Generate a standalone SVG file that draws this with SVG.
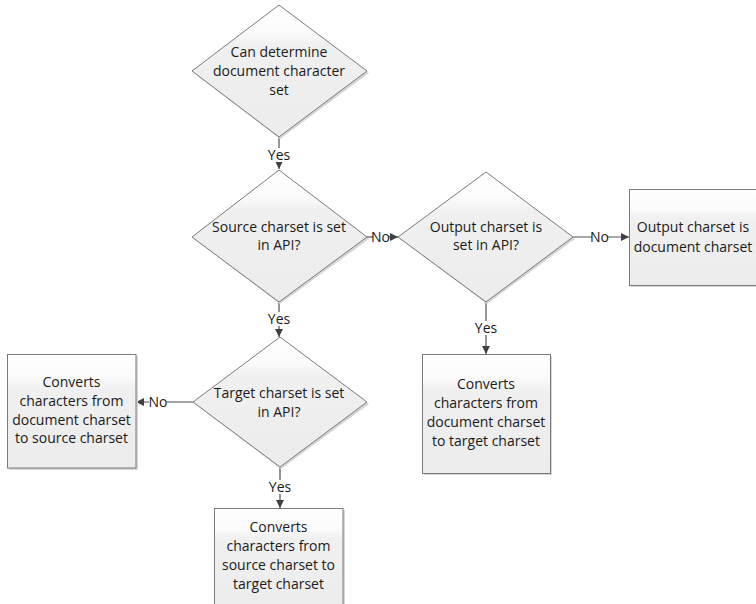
<svg xmlns="http://www.w3.org/2000/svg" width="756" height="604" viewBox="0 0 756 604">
<defs>
<linearGradient id="g" x1="0" y1="0" x2="0" y2="1">
<stop offset="0" stop-color="#ffffff"/>
<stop offset="0.2" stop-color="#fbfbfb"/>
<stop offset="0.3" stop-color="#f0f0f0"/>
<stop offset="1" stop-color="#ececec"/>
</linearGradient>
<marker id="arr" viewBox="0 0 10 10" refX="10" refY="5" markerWidth="8" markerHeight="8" markerUnits="userSpaceOnUse" orient="auto">
<path d="M0,0 L10,5 L0,10 z" fill="#404040"/>
</marker>
</defs>
<style>
.shape{fill:url(#g);stroke:#7a7a7a;stroke-width:1}
.shadow{fill:#d6d6d6;stroke:none}
.t{font-family:"Open Sans","Noto Sans",sans-serif;font-size:14px;fill:#1a1a1a;text-anchor:middle}
.c{stroke:#505050;stroke-width:1.2;fill:none}
.lb{fill:#fff}
</style>
<rect width="756" height="604" fill="#fff"/>

<g id="connectors">
<path class="c" d="M279,137 V169" marker-end="url(#arr)"/>
<path class="c" d="M367,237 H398" marker-end="url(#arr)"/>
<path class="c" d="M573,237 H629" marker-end="url(#arr)"/>
<path class="c" d="M486,302 V354" marker-end="url(#arr)"/>
<path class="c" d="M279,302 V337" marker-end="url(#arr)"/>
<path class="c" d="M193,402 H136" marker-end="url(#arr)"/>
<path class="c" d="M280,467 V508" marker-end="url(#arr)"/>
<rect class="lb" x="267" y="148" width="24" height="14"/>
<text class="t" x="279" y="160">Yes</text>
<rect class="lb" x="373" y="230" width="15" height="14"/>
<text class="t" x="380.5" y="242">No</text>
<rect class="lb" x="592" y="230" width="15" height="14"/>
<text class="t" x="599.5" y="242">No</text>
<rect class="lb" x="474" y="321" width="24" height="14"/>
<text class="t" x="486" y="333">Yes</text>
<rect class="lb" x="267" y="312" width="24" height="14"/>
<text class="t" x="279" y="324">Yes</text>
<rect class="lb" x="149" y="395" width="18" height="14"/>
<text class="t" x="158" y="407">No</text>
<rect class="lb" x="268" y="480" width="24" height="14"/>
<text class="t" x="280" y="492">Yes</text>
</g>

<g id="d1">
<polygon class="shadow" points="280,7 369,73 280,139 194,73"/>
<polygon class="shape" points="279,5 367,71 279,137 192,71"/>
<text class="t" x="279" y="57">Can determine</text>
<text class="t" x="279" y="76">document character</text>
<text class="t" x="279" y="95">set</text>
</g>

<g id="d2">
<polygon class="shadow" points="280,172 369,239 280,304 194,239"/>
<polygon class="shape" points="279,170 367,237 279,302 192,237"/>
<text class="t" x="279" y="232">Source charset is set</text>
<text class="t" x="279" y="250">in API?</text>
</g>

<g id="d3">
<polygon class="shadow" points="487,174 575,239 487,304 400,239"/>
<polygon class="shape" points="486,172 573,237 486,302 398,237"/>
<text class="t" x="486" y="232">Output charset is</text>
<text class="t" x="486" y="250">set in API?</text>
</g>

<g id="d4">
<polygon class="shadow" points="281,339 369,404 281,469 195,404"/>
<polygon class="shape" points="280,337 367,402 280,467 193,402"/>
<text class="t" x="279" y="398">Target charset is set</text>
<text class="t" x="279" y="417">in API?</text>
</g>

<g id="b1">
<rect class="shadow" x="631" y="191" width="128" height="96"/>
<rect class="shape" x="629.5" y="189.5" width="128" height="96"/>
<text class="t" x="693" y="232">Output charset is</text>
<text class="t" x="693" y="252">document charset</text>
</g>

<g id="b2">
<rect class="shadow" x="424" y="356" width="128" height="119"/>
<rect class="shape" x="422.5" y="354.5" width="128" height="119"/>
<text class="t" x="486" y="389">Converts</text>
<text class="t" x="486" y="408">characters from</text>
<text class="t" x="486" y="427">document charset</text>
<text class="t" x="486" y="446">to target charset</text>
</g>

<g id="b3">
<rect class="shadow" x="9" y="356" width="129" height="114"/>
<rect class="shape" x="7.5" y="354.5" width="128.5" height="113.5"/>
<text class="t" x="71.5" y="387">Converts</text>
<text class="t" x="71.5" y="406">characters from</text>
<text class="t" x="71.5" y="425">document charset</text>
<text class="t" x="71.5" y="443">to source charset</text>
</g>

<g id="b4">
<rect class="shadow" x="216" y="510" width="129" height="100"/>
<rect class="shape" x="214.5" y="508.5" width="128.5" height="100"/>
<text class="t" x="278.5" y="532">Converts</text>
<text class="t" x="278.5" y="551">characters from</text>
<text class="t" x="278.5" y="570">source charset to</text>
<text class="t" x="278.5" y="589">target charset</text>
</g>
</svg>
